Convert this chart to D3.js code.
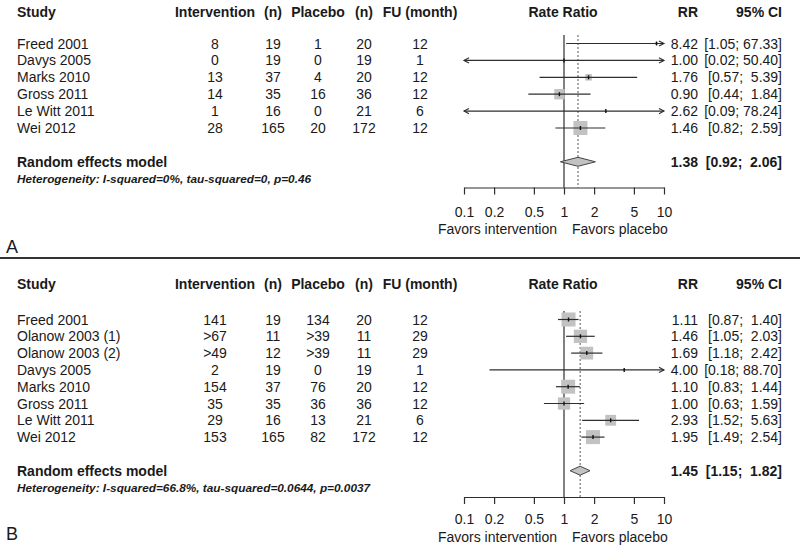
<!DOCTYPE html>
<html><head><meta charset="utf-8">
<script src="https://cdn.jsdelivr.net/npm/d3@7"></script>
<style>
body{margin:0;background:#fff}
svg{display:block;background:#fff}
text{font-family:"Liberation Sans",Arial,sans-serif;fill:#1a1a1a}
</style>
</head><body>
<svg id="chart" width="800" height="546"></svg>
<script>
// ---------- data ----------
const headers = ["Study","Intervention","(n)","Placebo","(n)","FU (month)","Rate Ratio","RR","95% CI"];
const tickValues = [0.1, 0.2, 0.5, 1, 2, 5, 10];
const tickLabels = ["0.1","0.2","0.5","1","2","5","10"];
const favorLabels = ["Favors intervention", "Favors placebo"];
const summaryLabel = "Random effects model";

// Panel A
const studiesA   = ["Freed 2001","Davys 2005","Marks 2010","Gross 2011","Le Witt 2011","Wei 2012"];
const intEventsA = ["8","0","13","14","1","28"];
const intNA      = [19, 19, 37, 35, 16, 165];
const plEventsA  = ["1","0","4","16","0","20"];
const plNA       = [20, 19, 20, 36, 21, 172];
const fuA        = [12, 1, 12, 12, 6, 12];
const rrA        = [8.42, 1.00, 1.76, 0.90, 2.62, 1.46];
const loA        = [1.05, 0.02, 0.57, 0.44, 0.09, 0.82];
const hiA        = [67.33, 50.40, 5.39, 1.84, 78.24, 2.59];
const weightA    = [2, 0, 12, 30, 1, 55];
const summaryA   = [1.38, 0.92, 2.06];
const hetA       = "Heterogeneity: I-squared=0%, tau-squared=0, p=0.46";

// Panel B
const studiesB   = ["Freed 2001","Olanow 2003 (1)","Olanow 2003 (2)","Davys 2005","Marks 2010","Gross 2011","Le Witt 2011","Wei 2012"];
const intEventsB = ["141",">67",">49","2","154","35","29","153"];
const intNB      = [19, 11, 12, 19, 37, 35, 16, 165];
const plEventsB  = ["134",">39",">39","0","76","36","13","82"];
const plNB       = [20, 11, 11, 19, 20, 36, 21, 172];
const fuB        = [12, 29, 29, 1, 12, 12, 6, 12];
const rrB        = [1.11, 1.46, 1.69, 4.00, 1.10, 1.00, 2.93, 1.95];
const loB        = [0.87, 1.05, 1.18, 0.18, 0.83, 0.63, 1.52, 1.49];
const hiB        = [1.40, 2.03, 2.42, 88.70, 1.44, 1.59, 5.63, 2.54];
const weightB    = [15, 13.5, 12.5, 0.3, 15, 11.5, 9, 15];
const summaryB   = [1.45, 1.15, 1.82];
const hetB       = "Heterogeneity: I-squared=66.8%, tau-squared=0.0644, p=0.0037";

const panelLabels = ["A", "B"];

// ---------- drawing ----------
const svg = d3.select("#chart");
const LINE = "#2e2e2e";
const SQ = "#c2c2c2";
const fmt2 = d3.format(".2f");
const x = d3.scaleLog().domain([0.1, 10]).range([464, 664]);

const col = {study:17, int:215, n1:273, pl:318, n2:364, fu:420, rate:563, rr:698, ci:782};

function ciText(lo, hi){
  return "[" + fmt2(lo) + "; " + fmt2(hi).padStart(5, " ") + "]";
}

function txt(g, xx, yc, s, anchor, opts={}){
  return g.append("text")
    .attr("x", xx).attr("y", yc + (opts.size||14)*0.36)
    .attr("text-anchor", anchor)
    .attr("font-size", opts.size||14)
    .attr("font-weight", opts.bold ? "bold" : "normal")
    .attr("font-style", opts.italic ? "italic" : "normal")
    .attr("xml:space","preserve")
    .style("white-space","pre")
    .text(s);
}

function arrowHead(g, xx, y, dir){
  const L = 5, H = 2.6;
  g.append("path")
    .attr("d", `M${xx - dir*L},${y - H}L${xx},${y}L${xx - dir*L},${y + H}`)
    .attr("fill","none").attr("stroke", LINE).attr("stroke-width", 1.1);
}

function drawPanel(cfg){
  const g = svg.append("g");
  const rowY = i => cfg.firstRow + i * cfg.step;
  const nRows = cfg.studies.length;
  const sumY = rowY(nRows - 1) + 2 * cfg.step;
  const hetY = sumY + cfg.step;
  const axisY = cfg.axisY;

  const hx = [col.study, col.int, col.n1, col.pl, col.n2, col.fu, col.rate, col.rr, col.ci];
  const ha = ["start","middle","middle","middle","middle","middle","middle","end","end"];
  headers.forEach((h, i) => txt(g, hx[i], cfg.headerY, h, ha[i], {bold:true}));

  const sz = d3.scaleSqrt().domain([0, d3.max(cfg.weight)]).range([0, 14]);

  g.append("line").attr("x1", x(1)).attr("x2", x(1))
    .attr("y1", cfg.firstRow - 8.5).attr("y2", axisY)
    .attr("stroke", LINE).attr("stroke-width", 1.2);
  g.append("line").attr("x1", x(cfg.summary[0])).attr("x2", x(cfg.summary[0]))
    .attr("y1", cfg.firstRow - 8.5).attr("y2", axisY)
    .attr("stroke", "#555").attr("stroke-width", 1).attr("stroke-dasharray", "2,2");

  cfg.studies.forEach((s, i) => {
    const y = rowY(i);
    txt(g, col.study, y, s, "start");
    txt(g, col.int, y, cfg.intE[i], "middle");
    txt(g, col.n1, y, String(cfg.intN[i]), "middle");
    txt(g, col.pl, y, cfg.plE[i], "middle");
    txt(g, col.n2, y, String(cfg.plN[i]), "middle");
    txt(g, col.fu, y, String(cfg.fu[i]), "middle");
    txt(g, col.rr, y, fmt2(cfg.rr[i]), "end");
    txt(g, col.ci, y, ciText(cfg.lo[i], cfg.hi[i]), "end");

    const w = sz(cfg.weight[i]);
    if (w > 0.5) {
      g.append("rect").attr("x", x(cfg.rr[i]) - w/2).attr("y", y - w/2)
        .attr("width", w).attr("height", w).attr("fill", SQ);
    }
    const [d0, d1] = x.domain();
    const lo = Math.max(cfg.lo[i], d0), hi = Math.min(cfg.hi[i], d1);
    g.append("line").attr("x1", x(lo)).attr("x2", x(hi)).attr("y1", y).attr("y2", y)
      .attr("stroke", LINE).attr("stroke-width", 1.2);
    if (cfg.lo[i] < d0) arrowHead(g, x(d0), y, -1);
    if (cfg.hi[i] > d1) arrowHead(g, x(d1), y, 1);
    g.append("line").attr("x1", x(cfg.rr[i])).attr("x2", x(cfg.rr[i]))
      .attr("y1", y - 2).attr("y2", y + 2)
      .attr("stroke", "#111").attr("stroke-width", 1.4);
  });

  txt(g, col.study, sumY, summaryLabel, "start", {bold:true});
  txt(g, col.rr, sumY, fmt2(cfg.summary[0]), "end", {bold:true});
  txt(g, col.ci, sumY, ciText(cfg.summary[1], cfg.summary[2]), "end", {bold:true});
  const dh = 4.5;
  g.append("path")
    .attr("d", `M${x(cfg.summary[1])},${sumY}L${x(cfg.summary[0])},${sumY - dh}L${x(cfg.summary[2])},${sumY}L${x(cfg.summary[0])},${sumY + dh}Z`)
    .attr("fill", SQ).attr("stroke", "#444").attr("stroke-width", 1);
  txt(g, col.study, hetY, cfg.het, "start", {bold:true, italic:true, size:11.8});

  const ax = d3.axisBottom(x).tickValues(tickValues)
    .tickFormat((d, i) => tickLabels[i]).tickSize(7).tickPadding(cfg.tickPad).tickSizeOuter(0);
  const ag = g.append("g").attr("transform", `translate(0,${axisY})`).call(ax);
  ag.select(".domain").attr("stroke", LINE).attr("stroke-width", 1.2);
  ag.selectAll(".tick line").attr("stroke", LINE).attr("stroke-width", 1.2);
  ag.selectAll(".tick text").attr("font-size", 14)
    .attr("font-family", '"Liberation Sans",Arial,sans-serif').attr("fill", "#1a1a1a");

  txt(g, 557, cfg.favY, favorLabels[0], "end");
  txt(g, 572, cfg.favY, favorLabels[1], "start");

  txt(g, 6, cfg.letterY, cfg.letter, "start", {size:18});
}

drawPanel({
  studies: studiesA, intE: intEventsA, intN: intNA, plE: plEventsA, plN: plNA, fu: fuA,
  rr: rrA, lo: loA, hi: hiA, weight: weightA, summary: summaryA, het: hetA,
  headerY: 12, firstRow: 43.5, step: 16.9, axisY: 187.5, tickPad: 13, favY: 229,
  letter: panelLabels[0], letterY: 247
});

svg.append("line").attr("x1", 0).attr("x2", 800).attr("y1", 258).attr("y2", 258)
  .attr("stroke", "#333").attr("stroke-width", 2);

drawPanel({
  studies: studiesB, intE: intEventsB, intN: intNB, plE: plEventsB, plN: plNB, fu: fuB,
  rr: rrB, lo: loB, hi: hiB, weight: weightB, summary: summaryB, het: hetB,
  headerY: 284, firstRow: 319.5, step: 16.8, axisY: 497, tickPad: 10, favY: 537,
  letter: panelLabels[1], letterY: 534
});
</script>
</body></html>
